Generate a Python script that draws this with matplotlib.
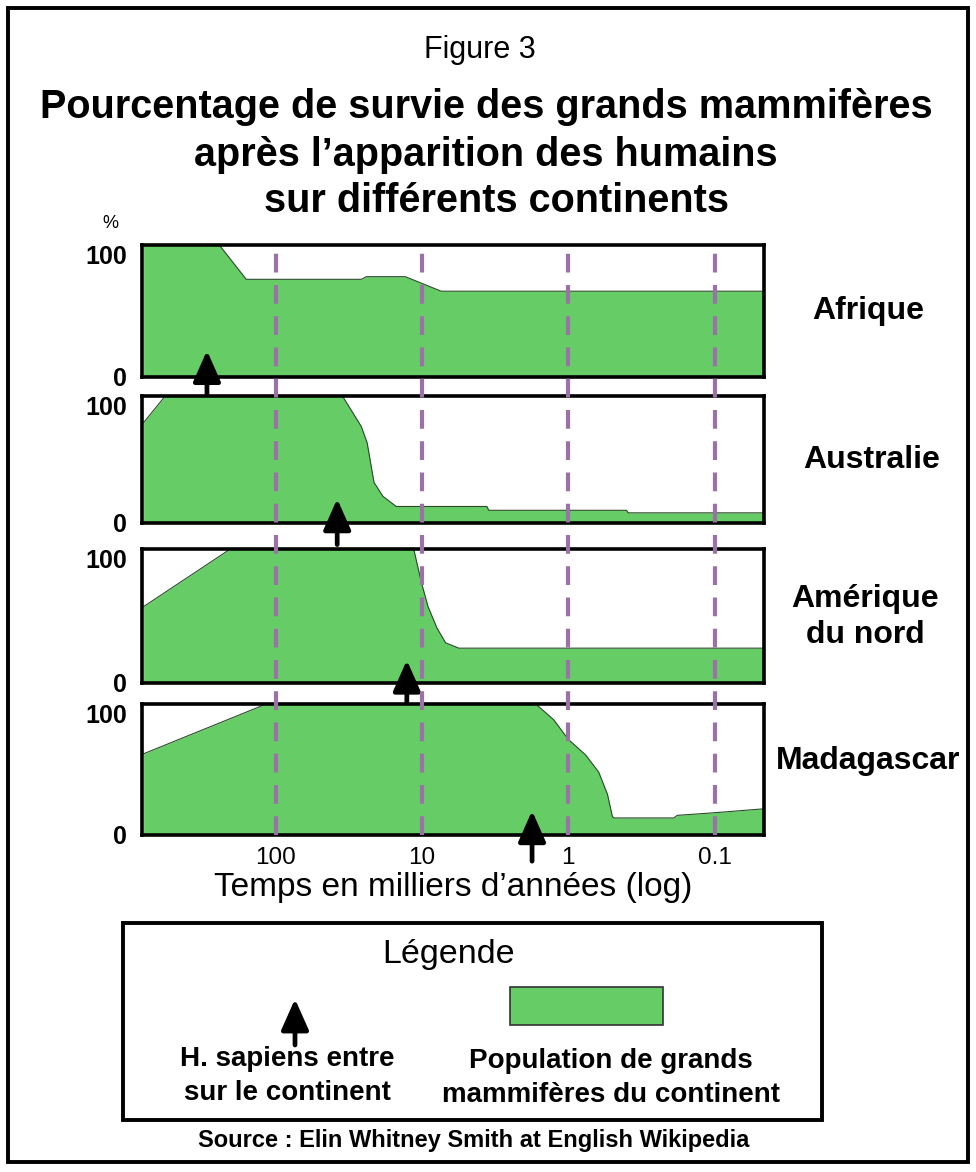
import numpy as np
import matplotlib.pyplot as plt
from matplotlib.patches import Rectangle

plt.rcParams['font.family'] = ['Liberation Sans', 'DejaVu Sans']

# temps en milliers d'annees (log), pourcentage de survie
continents = ['Afrique', 'Australie', 'Amérique\ndu nord', 'Madagascar']

afr_t = [800, 243, 159, 26, 24, 13, 7.4, 0.046]
afr_p = [100, 100, 74, 74, 76, 76, 65, 65]

aus_t = [800, 569, 35, 26, 23.7, 21.3, 18.5, 15, 3.6, 3.5, 0.4, 0.39, 0.046]
aus_p = [79, 100, 100, 76, 63, 32, 21, 13, 13, 10, 10, 8, 8]

ame_t = [800, 204, 11.4, 10.1, 9.1, 7.9, 6.9, 5.6, 0.046]
ame_p = [57, 100, 100, 75, 57, 41, 30, 26, 26]

mad_t = [800, 116, 1.67, 1.26, 1.0, 0.76, 0.62, 0.54, 0.50, 0.486, 0.19, 0.18, 0.1, 0.046]
mad_p = [62, 100, 100, 88, 73, 61, 48, 31, 14, 13, 13, 15, 17, 20]

series_t = [afr_t, aus_t, ame_t, mad_t]
series_p = [afr_p, aus_p, ame_p, mad_p]

arrivee = [295, 38, 12.7, 1.77]  # arrivee de H. sapiens
xticks = [100, 10, 1, 0.1]
xticklabels = ['100', '10', '1', '0.1']

W, H = 976, 1172
fig = plt.figure(figsize=(W / 100, H / 100), dpi=100)

green = '#66cc66'
purple = '#9a72a6'
xlim = (820, 0.046)
arrow_style = dict(arrowstyle='-|>,head_length=0.45,head_width=0.2',
                   mutation_scale=42, lw=3.4, color='black', shrinkA=0, shrinkB=0)

# panels: (top, bottom) in pixels
panels = [(245, 377), (396, 523), (549, 683), (704, 835)]
left, right = 142, 764
arrow_y = [(0.20, -0.15), (0.19, -0.17), (0.17, -0.16), (0.185, -0.20)]

axes = []
for i, (top, bot) in enumerate(panels):
    ax = fig.add_axes([left / W, 1 - bot / H, (right - left) / W, (bot - top) / H])
    ax.set_xscale('log')
    ax.set_xlim(*xlim)
    ax.set_ylim(0, 100)
    ax.fill_between(series_t[i], series_p[i], 0, color=green, lw=0)
    ax.plot(series_t[i], series_p[i], color='#2a4a2a', lw=0.8)
    for s in ax.spines.values():
        s.set_linewidth(2.6)
        s.set_zorder(5)
    ax.set_yticks([0, 100])
    ax.set_yticklabels(['0', '100'], fontsize=18, fontweight='bold')
    ax.get_yticklabels()[1].set_va('top')
    ax.tick_params(axis='y', length=0, pad=11)
    ax.minorticks_off()
    if i < 3:
        ax.set_xticks([])
    else:
        ax.set_xticks(xticks)
        ax.set_xticklabels(xticklabels, fontsize=17.5)
        ax.tick_params(axis='x', length=0, pad=9)
    ty, tl = arrow_y[i]
    ax.annotate('', xy=(arrivee[i], ty), xytext=(arrivee[i], tl),
                xycoords=('data', 'axes fraction'), textcoords=('data', 'axes fraction'),
                arrowprops=arrow_style, annotation_clip=False, zorder=6)
    axes.append(ax)

axes[-1].set_xlabel('Temps en milliers d’années (log)', fontsize=24, labelpad=2)

# dashed lines crossing all panels
top0, bot0 = panels[0][0], panels[-1][1]
ov = fig.add_axes([left / W, 1 - bot0 / H, (right - left) / W, (bot0 - top0) / H])
ov.set_xscale('log')
ov.set_xlim(*xlim)
ov.set_ylim(0, 1)
ov.axis('off')
ov.patch.set_visible(False)
for xv in xticks:
    ov.axvline(xv, color=purple, lw=3, dashes=(4.5, 3))

# overlay in pixel coordinates for texts and frames
bg = fig.add_axes([0, 0, 1, 1], zorder=-1)
bg.set_xlim(0, W)
bg.set_ylim(H, 0)
bg.axis('off')
bg.add_patch(Rectangle((8, 8), 960, 1154, fill=False, lw=2.8, ec='black'))

fg = fig.add_axes([0, 0, 1, 1], zorder=10)
fg.set_xlim(0, W)
fg.set_ylim(H, 0)
fg.axis('off')
fg.patch.set_visible(False)

fg.text(480, 50, 'Figure 3', fontsize=22, ha='center', va='center')
fg.text(486, 107, 'Pourcentage de survie des grands mammifères', fontsize=28.5,
        fontweight='bold', ha='center', va='center')
fg.text(486, 155, 'après l’apparition des humains', fontsize=28.5,
        fontweight='bold', ha='center', va='center')
fg.text(497, 201, 'sur différents continents', fontsize=28.5,
        fontweight='bold', ha='center', va='center')
fg.text(110, 224, '%', fontsize=13, ha='center', va='center')

fg.text(868, 311, continents[0], fontsize=23, fontweight='bold', ha='center', va='center')
fg.text(872, 460, continents[1], fontsize=23, fontweight='bold', ha='center', va='center')
fg.text(865, 617, continents[2], fontsize=23, fontweight='bold', ha='center', va='center',
        linespacing=1.3)
fg.text(868, 761, continents[3], fontsize=23, fontweight='bold', ha='center', va='center')

# legend
fg.add_patch(Rectangle((123, 923), 699, 197, fill=False, lw=2.8, ec='black'))
fg.text(449, 955, 'Légende', fontsize=24.5, ha='center', va='center')
fg.annotate('', xy=(295, 999), xytext=(295, 1045), arrowprops=arrow_style)
fg.add_patch(Rectangle((510, 987), 153, 38, fc=green, ec='#333333', lw=1.2))
fg.text(287, 1076, 'H. sapiens entre\nsur le continent', fontsize=20, fontweight='bold',
        ha='center', va='center', linespacing=1.38)
fg.text(611, 1078, 'Population de grands\nmammifères du continent', fontsize=20,
        fontweight='bold', ha='center', va='center', linespacing=1.38)
fg.text(474, 1140, 'Source : Elin Whitney Smith at English Wikipedia', fontsize=17,
        fontweight='bold', ha='center', va='center')

fig.savefig('out.png', dpi=100)
